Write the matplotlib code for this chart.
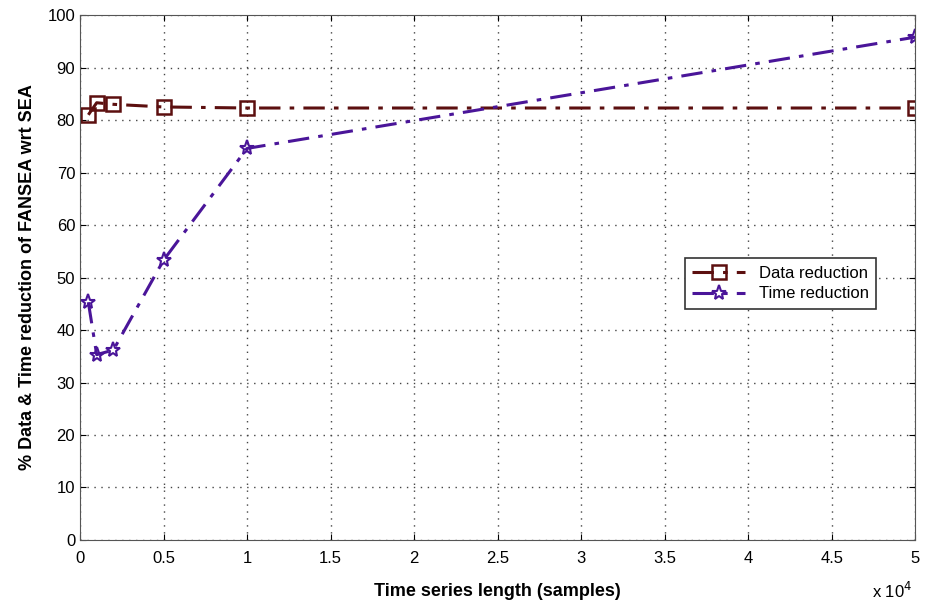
import matplotlib
matplotlib.use('Agg')
import matplotlib.pyplot as plt
import numpy as np

# values
lengths = [500, 1000, 2000, 5000, 10000, 50000]
data_reduction = [81.0, 83.3, 83.0, 82.5, 82.3, 82.3]
time_reduction = [45.3, 35.3, 36.2, 53.3, 74.6, 95.8]

plt.rcParams['font.family'] = ['Liberation Sans', 'DejaVu Sans']

fig = plt.figure(figsize=(9.29, 6.04), dpi=100)
ax = fig.add_axes([0.0861, 0.106, 0.899, 0.869])

ax.plot(lengths, data_reduction, linestyle='-.', color='#5c0f0f', linewidth=2.2,
        marker='s', markersize=10, markerfacecolor='none', markeredgewidth=1.8,
        dashes=(7, 3, 1.5, 3), label='Data reduction')
ax.plot(lengths, time_reduction, linestyle='-.', color='#4a1599', linewidth=2.2,
        marker='*', markersize=11, markerfacecolor='none', markeredgewidth=1.5,
        dashes=(7, 3, 1.5, 3), label='Time reduction')

ax.set_xlim(0, 50000)
ax.set_ylim(0, 100)
ax.set_xticks(np.arange(0, 50001, 5000))
ax.set_xticklabels(['0', '0.5', '1', '1.5', '2', '2.5', '3', '3.5', '4', '4.5', '5'])
ax.set_yticks(np.arange(0, 101, 10))
ax.tick_params(labelsize=12, direction='in', length=4, top=True, right=True)
ax.tick_params(axis='x', pad=8)
ax.grid(True, linestyle=(0, (1, 4)), color='#444444', linewidth=1)

ax.text(0.996, -0.097, r'x 10$^4$', transform=ax.transAxes, ha='right', va='center', fontsize=12)

ax.set_xlabel('Time series length (samples)', fontsize=13, fontweight='bold', labelpad=12)
ax.set_ylabel('% Data & Time reduction of FANSEA wrt SEA', fontsize=13, fontweight='bold', labelpad=8)

for s in ax.spines.values():
    s.set_color('#555555')

leg = ax.legend(loc='upper left', bbox_to_anchor=(0.714, 0.553), fontsize=12,
                fancybox=False, edgecolor='#333333', framealpha=1, handlelength=3.2,
                borderpad=0.45, labelspacing=0.35)
leg.get_frame().set_linewidth(1.2)

fig.savefig('out.png', dpi=100)
